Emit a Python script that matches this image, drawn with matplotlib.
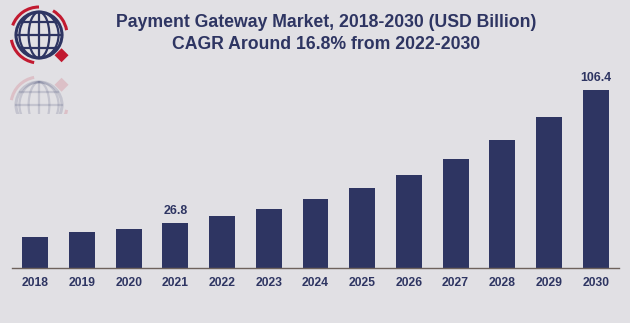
import matplotlib
matplotlib.use("Agg")
import matplotlib.pyplot as plt
from matplotlib import font_manager
from matplotlib.patches import Circle, Ellipse, Arc, Polygon, Rectangle
import numpy as np

years = ["2018", "2019", "2020", "2021", "2022", "2023", "2024",
         "2025", "2026", "2027", "2028", "2029", "2030"]
values = [18.1, 21.2, 22.9, 26.8, 30.6, 35.2, 40.8, 47.6, 55.5, 65.1, 76.3, 90.1, 106.4]
labeled = {"2021": "26.8", "2030": "106.4"}

title1 = "Payment Gateway Market, 2018-2030 (USD Billion)"
title2 = "CAGR Around 16.8% from 2022-2030"

BG = "#e1e0e4"
NAVY = "#2e3562"
RED = "#c21a30"


def bold_font(size):
    path = None
    for f in font_manager.findSystemFonts():
        if f.endswith("LiberationSans-Bold.ttf"):
            path = f
            break
    if path:
        return font_manager.FontProperties(fname=path, size=size)
    return font_manager.FontProperties(family="DejaVu Sans", weight="bold", size=size)


W, H = 630, 323
fig = plt.figure(figsize=(W / 100, H / 100), dpi=100, facecolor=BG)

# logo axes (decoration, pixel coordinates)
lax = fig.add_axes([0, 0, 1, 1], zorder=0)
lax.set_xlim(0, W)
lax.set_ylim(H, 0)
lax.axis("off")
lax.patch.set_alpha(0)

# main axes
left, right = 12 / W, 619 / W
bottom, top = 1 - 267.5 / H, 1 - 80 / H
ax = fig.add_axes([left, bottom, right - left, top - bottom], zorder=1)
ax.patch.set_alpha(0)
x = np.arange(len(years))
ax.bar(x, values, width=0.556, color=NAVY, zorder=2)
ax.set_xlim(-0.5, len(years) - 0.5)
ax.set_ylim(0, 112.2)
ax.set_xticks(x)
ax.set_xticklabels(years, fontproperties=bold_font(8.7), color=NAVY)
ax.tick_params(axis="x", length=0, pad=7)
ax.set_yticks([])
for s in ["left", "right", "top"]:
    ax.spines[s].set_visible(False)
ax.spines["bottom"].set_color("#6e625c")
ax.spines["bottom"].set_linewidth(1.0)

for i, (yr, v) in enumerate(zip(years, values)):
    if yr in labeled:
        ax.annotate(labeled[yr], (i, v), xytext=(0, 4), textcoords="offset points",
                    ha="center", va="bottom", fontproperties=bold_font(8.9), color=NAVY)

# titles
fig.text(326 / W, 1 - 27 / H, title1, ha="center", va="baseline",
         fontproperties=bold_font(12.7), color=NAVY)
fig.text(326 / W, 1 - 49 / H, title2, ha="center", va="baseline",
         fontproperties=bold_font(12.7), color=NAVY)


def draw_logo(cx, cy, r, alpha, flip=False, clip=None):
    arts = []
    lw = 1.6
    s = -1 if flip else 1
    arts.append(lax.add_patch(Circle((cx, cy), r, fill=False, ec=NAVY, lw=lw + 0.6, alpha=alpha)))
    for f in [0.45, 0.85]:
        arts.append(lax.add_patch(Ellipse((cx, cy), 2 * r * f, 2 * r, fill=False, ec=NAVY, lw=lw, alpha=alpha)))
    arts += lax.plot([cx, cx], [cy - r, cy + r], color=NAVY, lw=lw, alpha=alpha)
    for dy in [-0.55, 0, 0.55]:
        hw = r * np.sqrt(1 - dy ** 2)
        arts += lax.plot([cx - hw, cx + hw], [cy + dy * r, cy + dy * r], color=NAVY, lw=lw, alpha=alpha)
    R = r + 5
    arcs = [(100, 170), (200, 270), (300, 350)]
    for a0, a1 in arcs:
        if flip:
            a0, a1 = -a1, -a0
        arts.append(lax.add_patch(Arc((cx, cy), 2 * R, 2 * R, theta1=a0, theta2=a1, ec=RED, lw=2.2, alpha=alpha)))
    dx, dyy = cx + 0.98 * r, cy + s * 0.88 * r
    d = 7
    arts.append(lax.add_patch(Polygon([(dx, dyy - d), (dx + d, dyy), (dx, dyy + d), (dx - d, dyy)],
                                      closed=True, fc=RED, ec="none", alpha=alpha)))
    if clip is not None:
        for a in arts:
            a.set_clip_path(clip)


draw_logo(39, 35, 23, 1.0)
clip_rect = Rectangle((0, 74), 100, 40, transform=lax.transData)
draw_logo(39, 105, 23, 0.16, flip=True, clip=clip_rect)

fig.savefig("out.png", dpi=100, facecolor=BG)
